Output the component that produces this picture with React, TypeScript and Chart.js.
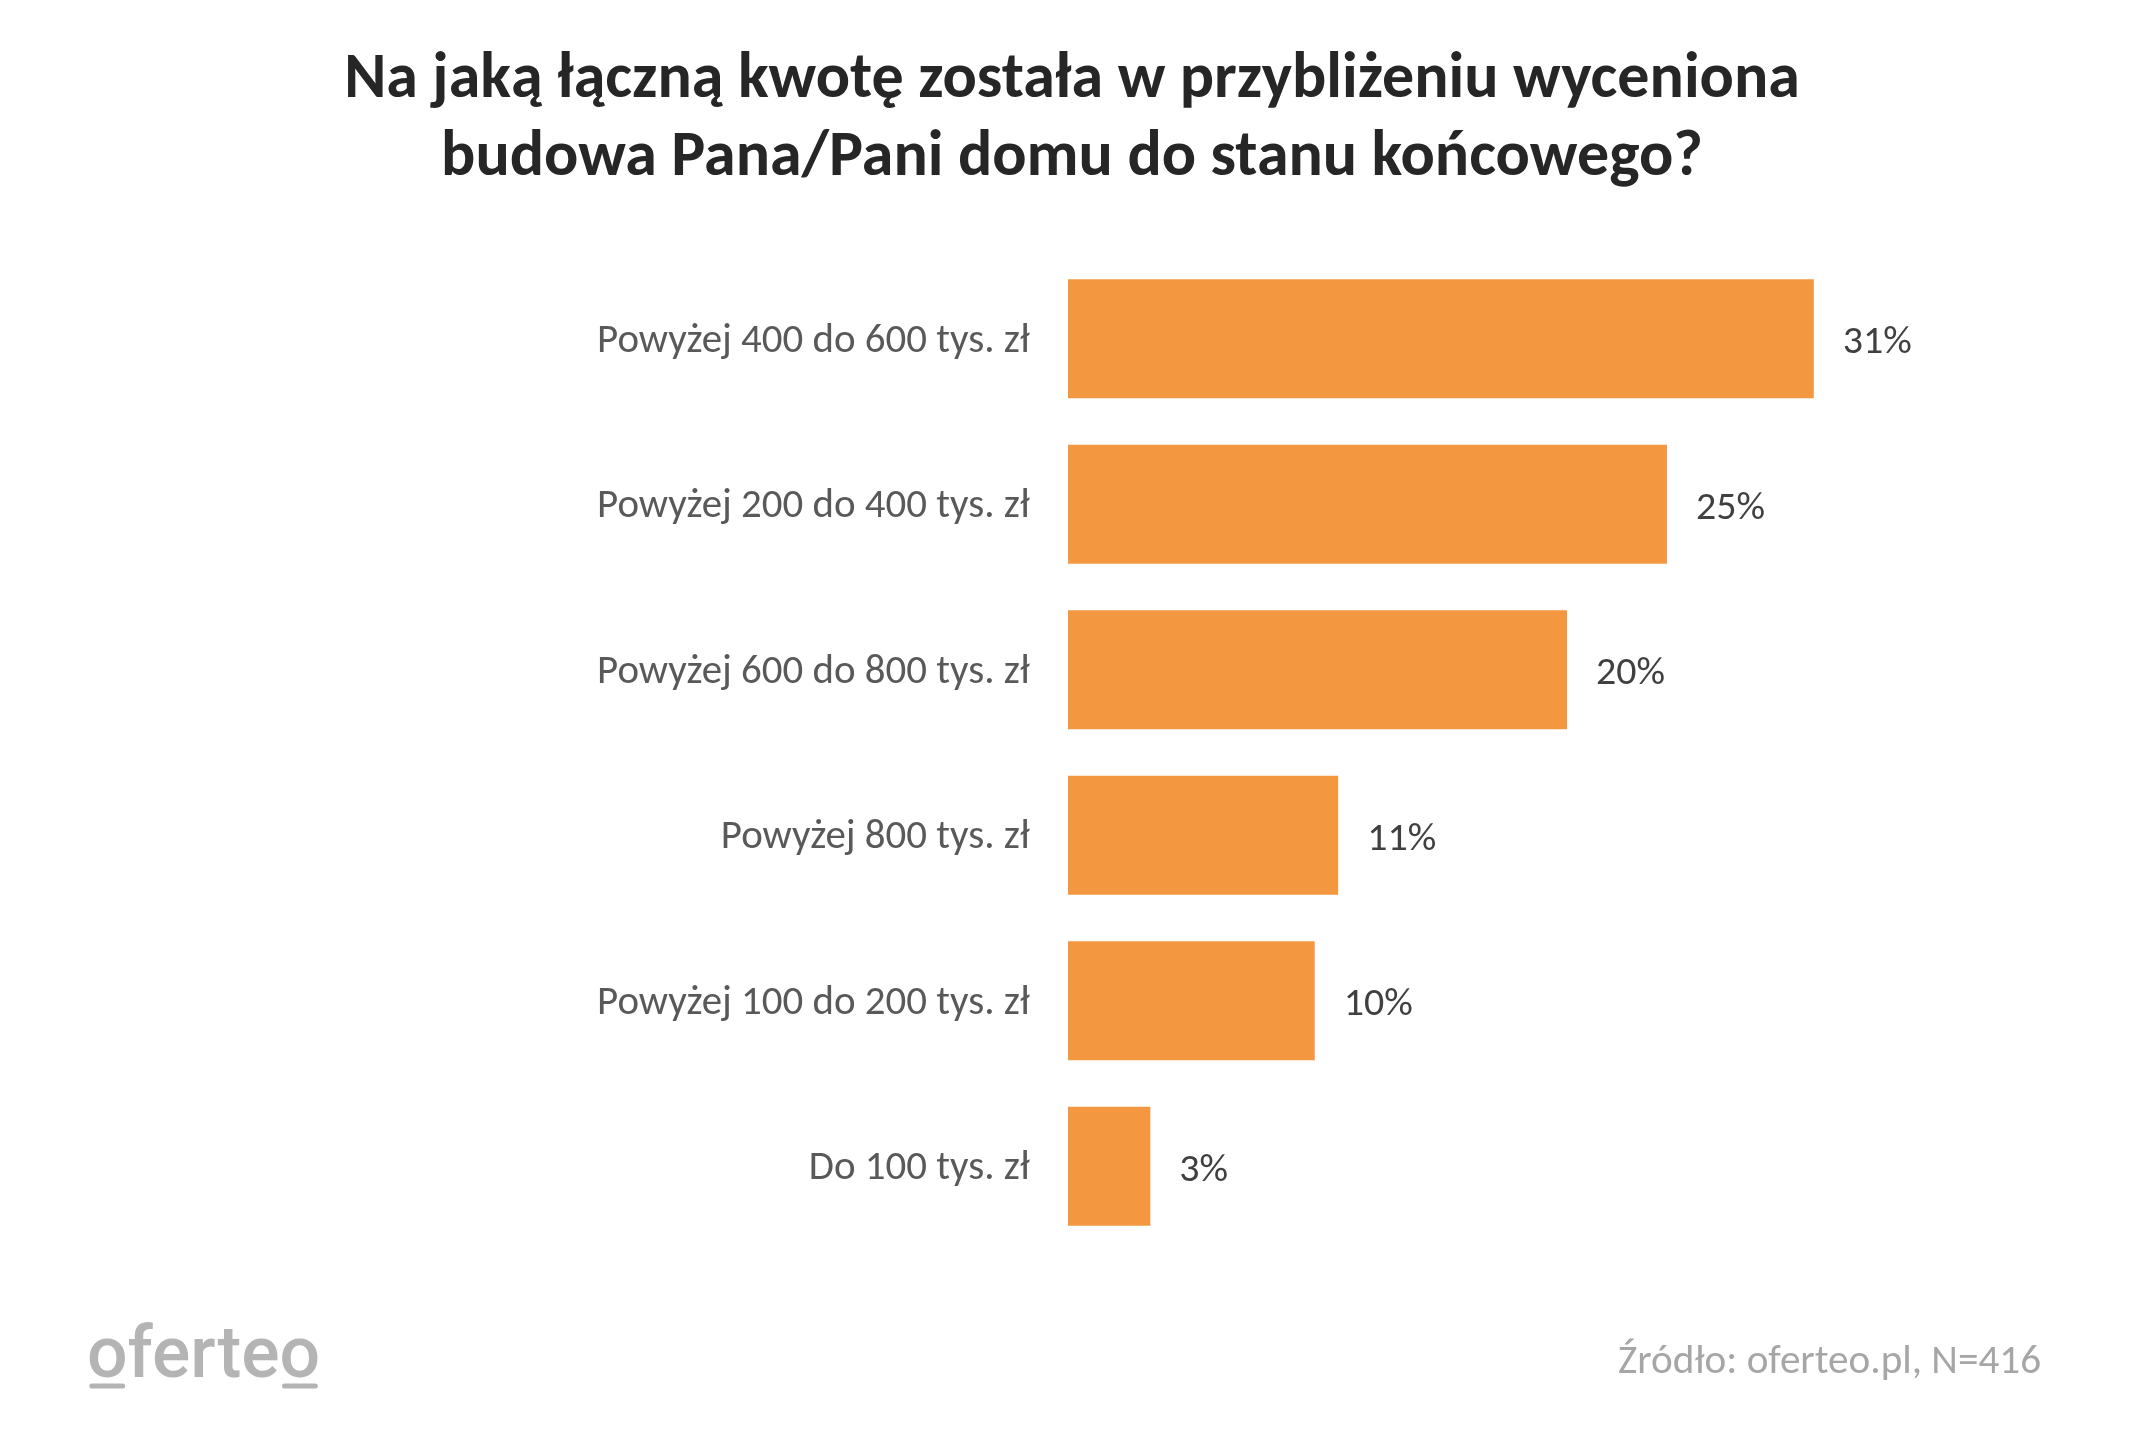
import { useEffect, useRef } from 'react';
import { Chart, registerables } from 'chart.js';

Chart.register(...registerables);

const categories = [
  'Powyżej 400 do 600 tys. zł',
  'Powyżej 200 do 400 tys. zł',
  'Powyżej 600 do 800 tys. zł',
  'Powyżej 800 tys. zł',
  'Powyżej 100 do 200 tys. zł',
  'Do 100 tys. zł',
];
const shares = [30.53, 24.52, 20.43, 11.06, 10.1, 3.37];
const titleLines = [
  'Na jaką łączną kwotę została w przybliżeniu wyceniona',
  'budowa Pana/Pani domu do stanu końcowego?',
];
const sourceText = 'Źródło: oferteo.pl, N=416';
const logoText = 'oferteo';

const FONT = 'Carlito, Lato, "Open Sans", sans-serif';
const LOGO_FONT = 'Roboto, "Noto Sans", sans-serif';

function fitSize(ctx: CanvasRenderingContext2D, text: string, weight: string, family: string, target: number) {
  ctx.font = `${weight} 100px ${family}`;
  return (100 * target) / ctx.measureText(text).width;
}

export default function App() {
  const ref = useRef<HTMLCanvasElement | null>(null);

  useEffect(() => {
    document.body.style.margin = '0';
    const canvas = ref.current!;
    const mctx = canvas.getContext('2d')!;
    const labelSize = fitSize(mctx, categories[0], '400', FONT, 433);
    const valueSize = fitSize(mctx, '31%', '400', FONT, 69);
    const titleSize = fitSize(mctx, titleLines[0], '700', FONT, 1456);
    const sourceSize = fitSize(mctx, sourceText, '400', FONT, 423);
    const logoSize = fitSize(mctx, logoText, '400', LOGO_FONT, 231);

    const overlay = {
      id: 'overlay',
      afterDraw(chart: any) {
        const ctx: CanvasRenderingContext2D = chart.ctx;
        ctx.save();
        // value labels
        ctx.font = `400 ${valueSize}px ${FONT}`;
        ctx.fillStyle = '#404040';
        ctx.textAlign = 'left';
        ctx.textBaseline = 'alphabetic';
        const meta = chart.getDatasetMeta(0);
        meta.data.forEach((bar: any, i: number) => {
          ctx.fillText(Math.round(shares[i]) + '%', bar.x + 29, bar.y + valueSize * 0.36);
        });
        // title
        ctx.font = `700 ${titleSize}px ${FONT}`;
        ctx.fillStyle = '#262626';
        ctx.textAlign = 'center';
        ctx.fillText(titleLines[0], 1072, 97);
        ctx.fillText(titleLines[1], 1072, 175);
        // source
        ctx.font = `400 ${sourceSize}px ${FONT}`;
        ctx.fillStyle = '#a6a6a6';
        ctx.textAlign = 'right';
        ctx.fillText(sourceText, 2041, 1373);
        // logo
        ctx.font = `500 ${logoSize}px ${LOGO_FONT}`;
        ctx.fillStyle = '#b4b4b4';
        ctx.textAlign = 'left';
        const lx = 87;
        ctx.fillText(logoText, lx, 1377);
        const oW = ctx.measureText('o').width;
        const preW = ctx.measureText(logoText.slice(0, -1)).width;
        ctx.strokeStyle = '#b4b4b4';
        ctx.lineWidth = 5;
        ctx.lineCap = 'round';
        ctx.beginPath();
        ctx.moveTo(lx + oW * 0.12, 1386);
        ctx.lineTo(lx + oW * 0.88, 1386);
        ctx.moveTo(lx + preW + oW * 0.12, 1386);
        ctx.lineTo(lx + preW + oW * 0.88, 1386);
        ctx.stroke();
        ctx.restore();
      },
    };

    const chart = new Chart(canvas, {
      type: 'bar',
      data: {
        labels: categories,
        datasets: [
          {
            data: shares,
            backgroundColor: '#F39841',
            borderWidth: 0,
            barPercentage: 0.719,
            categoryPercentage: 1,
          },
        ],
      },
      options: {
        indexAxis: 'y',
        responsive: false,
        devicePixelRatio: 1,
        animation: false,
        layout: { padding: { top: 256, bottom: 195, left: 0, right: 222 } },
        plugins: {
          legend: { display: false },
          tooltip: { enabled: false },
          title: { display: false },
        },
        scales: {
          x: { display: false, min: 0, max: 35 },
          y: {
            grid: { display: false, drawTicks: false },
            border: { display: false },
            ticks: {
              padding: 38,
              labelOffset: 3,
              color: '#595959',
              font: { family: FONT, size: labelSize, weight: 'normal' },
            },
            afterFit: (s: any) => {
              s.width = 1068;
            },
          },
        },
      },
      plugins: [overlay],
    });
    return () => chart.destroy();
  }, []);

  return (
    <div style={{ width: 2145, height: 1444, background: '#fff' }}>
      <canvas ref={ref} width={2145} height={1444} style={{ display: 'block', width: 2145, height: 1444 }} />
    </div>
  );
}
